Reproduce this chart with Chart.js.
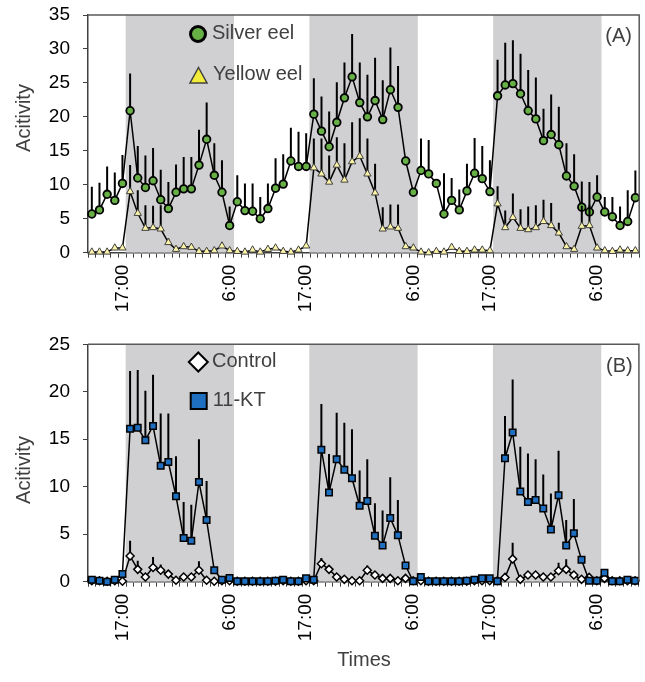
<!DOCTYPE html>
<html><head><meta charset="utf-8">
<script src="https://cdn.jsdelivr.net/npm/chart.js@4/dist/chart.umd.min.js"></script>
<style>
html,body{margin:0;padding:0;background:#fff;}
#wrap{position:relative;width:645px;height:682px;overflow:hidden;}
canvas{position:absolute;left:0;}
#cA{top:0}
#cB{top:330px}
</style></head><body>
<div id="wrap"><canvas id="cA" width="645" height="330"></canvas><canvas id="cB" width="645" height="352"></canvas></div>
<script>
// ---- categories (hourly samples) and tick labels ----
const timeLabels = [
  '', '', '', '', '17:00', '', '', '', '', '', '', '',
  '', '', '', '', '', '', '6:00', '', '', '', '', '',
  '', '', '', '', '17:00', '', '', '', '', '', '', '',
  '', '', '', '', '', '', '6:00', '', '', '', '', '',
  '', '', '', '', '17:00', '', '', '', '', '', '', '',
  '', '', '', '', '', '', '6:00', '', '', '', '', ''
];
// shaded (dark) periods, first and last category index
const nightRanges = [[5, 18], [29, 42], [53, 66]];

// ---- Panel A ----
const silverEel = [
  5.7, 6.3, 8.6, 7.7, 10.2, 20.9, 11.0, 9.6, 10.6, 7.8, 6.5, 8.9,
  9.4, 9.4, 12.9, 16.7, 11.4, 8.9, 4.0, 7.5, 6.2, 6.1, 5.0, 6.5,
  9.5, 10.1, 13.5, 12.7, 12.7, 20.4, 17.9, 15.6, 19.2, 22.8, 25.9, 22.1,
  20.0, 22.4, 19.6, 24.0, 21.4, 13.5, 8.9, 12.1, 11.6, 10.2, 5.7, 7.7,
  6.3, 9.1, 11.7, 10.9, 9.0, 23.1, 24.7, 24.9, 23.4, 20.9, 19.7, 16.5,
  17.4, 15.9, 11.3, 9.8, 6.7, 6.0, 8.2, 6.0, 5.3, 4.0, 4.6, 8.1
];
const silverEelErr = [
  4.0, 4.0, 4.1, 4.1, 4.2, 5.5, 4.7, 4.7, 4.8, 4.4, 3.9, 4.1,
  4.7, 4.7, 5.2, 5.4, 4.7, 4.7, 2.8, 3.9, 4.0, 4.1, 3.2, 3.7,
  4.4, 4.4, 4.9, 5.1, 4.9, 5.3, 5.1, 5.2, 5.9, 5.2, 6.3, 5.9,
  6.2, 6.3, 5.8, 6.2, 6.1, 0.5, 0.5, 4.7, 5.0, 0.5, 6.0, 3.3,
  3.0, 4.0, 5.2, 4.8, 4.6, 5.3, 6.2, 6.4, 5.9, 6.0, 6.1, 4.7,
  5.9, 5.6, 4.8, 4.7, 3.8, 4.4, 3.2, 2.2, 2.9, 2.8, 4.6, 4.0
];
const yellowEel = [
  0.1, 0.1, 0.1, 0.7, 0.7, 9.0, 5.8, 3.6, 3.7, 3.5, 1.5, 0.5,
  0.9, 0.8, 0.2, 0.2, 0.3, 1.0, 0.3, 0.2, 0.1, 0.4, 0.1, 0.5,
  0.7, 0.2, 0.1, 0.4, 1.0, 12.5, 11.6, 10.4, 12.9, 10.7, 13.4, 14.2,
  11.6, 8.8, 3.5, 3.8, 3.6, 0.9, 0.7, 0.1, 0.0, 0.2, 0.1, 0.8,
  0.2, 0.2, 0.4, 0.4, 0.3, 7.2, 3.7, 5.2, 3.6, 3.4, 3.7, 4.6,
  4.0, 2.9, 0.9, 0.5, 3.9, 4.0, 0.7, 0.3, 0.2, 0.4, 0.3, 0.3
];
const yellowEelErr = [
  0.2, 0.2, 0.2, 0.4, 0.4, 3.9, 3.4, 3.4, 3.2, 3.5, 0.6, 0.3,
  0.4, 0.4, 0.2, 0.2, 0.2, 0.5, 0.2, 0.2, 0.2, 0.2, 0.2, 0.2,
  0.2, 0.2, 0.2, 0.2, 0.3, 4.3, 5.2, 3.9, 4.1, 5.4, 5.8, 5.6,
  5.2, 4.3, 3.2, 3.3, 3.5, 0.3, 0.3, 0.2, 0.2, 0.2, 0.2, 0.3,
  0.2, 0.2, 0.2, 0.2, 0.2, 2.6, 2.5, 3.5, 2.8, 3.4, 3.3, 3.2,
  3.3, 1.5, 0.3, 0.3, 3.0, 3.0, 0.3, 0.2, 0.2, 0.2, 0.2, 0.2
];

// ---- Panel B ----
const control = [
  0.1, 0.1, 0.05, 0.1, 0.05, 2.7, 1.3, 0.5, 1.5, 1.2, 0.8, 0.15,
  0.5, 0.5, 1.2, 0.15, 0.05, 0.1, 0.1, 0.05, 0.05, 0.05, 0.05, 0.05,
  0.05, 0.1, 0.05, 0.05, 0.1, 0.1, 1.9, 1.3, 0.5, 0.25, 0.1, 0.1,
  1.2, 0.7, 0.35, 0.35, 0.1, 0.35, 0.1, 0.1, 0.05, 0.05, 0.05, 0.05,
  0.05, 0.05, 0.1, 0.1, 0.1, 0.1, 0.45, 2.4, 0.25, 0.7, 0.7, 0.5,
  0.5, 1.15, 1.3, 0.7, 0.25, 0.45, 0.1, 0.35, 0.1, 0.1, 0.1, 0.1
];
const controlErr = [
  0, 0, 0, 0, 0, 1.6, 0.9, 0.3, 1.1, 0.6, 0.3, 0.1,
  0.3, 0.3, 0.95, 0.1, 0, 0, 0, 0, 0, 0, 0, 0,
  0, 0, 0, 0, 0, 0, 0.6, 0.4, 0.3, 0.1, 0.1, 0.1,
  0.5, 0.3, 0.3, 0.2, 0.1, 0.2, 0, 0, 0, 0, 0, 0,
  0, 0, 0, 0, 0, 0, 0.3, 1.7, 0.2, 0.3, 0.3, 0.3,
  0.3, 0.84, 1.06, 0.3, 0.2, 0.2, 0, 0.2, 0, 0, 0, 0
];
const kt11 = [
  0.2, 0.1, 0.0, 0.2, 0.8, 16.1, 16.2, 14.9, 16.4, 12.2, 12.6, 9.0,
  4.6, 4.3, 10.5, 6.5, 1.2, 0.2, 0.4, 0.05, 0.05, 0.05, 0.05, 0.05,
  0.1, 0.2, 0.05, 0.05, 0.35, 0.2, 13.9, 9.4, 12.9, 11.8, 10.9, 8.0,
  8.5, 4.85, 3.8, 6.7, 4.9, 1.7, 0.05, 0.5, 0.05, 0.05, 0.05, 0.05,
  0.05, 0.1, 0.2, 0.35, 0.35, 0.05, 13.0, 15.7, 9.5, 8.4, 8.6, 7.7,
  5.5, 9.1, 3.8, 5.1, 2.3, 0.1, 0.1, 0.95, 0.05, 0.05, 0.2, 0.1
];
const kt11Err = [
  0, 0, 0, 0, 0, 6.1, 6.1, 5.2, 5.4, 5.5, 5.1, 4.2,
  3.8, 3.8, 4.5, 4.1, 0, 0, 0, 0, 0, 0, 0, 0,
  0, 0, 0, 0, 0, 0, 4.8, 4.05, 4.9, 4.95, 5.15, 3.7,
  4.4, 3.4, 3.7, 4.3, 3.7, 0, 0, 0, 0, 0, 0, 0,
  0, 0, 0, 0, 0, 0, 4.45, 5.6, 4.7, 5.1, 4.3, 3.6,
  3.8, 4.7, 2.7, 3.6, 0, 0, 0, 0, 0, 0, 0, 0
];

// ---- axis ranges ----
const yMaxA = 35, yMaxB = 25, yStep = 5;

// ---------------------------------------------------------------
const FONT = "'Liberation Sans', Arial, sans-serif";
const TEXT_GRAY = '#404040';
const AXIS = '#404040';

function bandData(ymax) {
  return timeLabels.map((_, i) => nightRanges.some(r => i >= r[0] && i <= r[1]) ? ymax : null);
}

const errorBarPlugin = {
  id: 'errorBars',
  beforeDatasetDraw(chart, args) {
    const ds = chart.data.datasets[args.index];
    if (!ds.errors) return;
    const ys = chart.scales.y;
    const ctx = chart.ctx;
    ctx.save();
    ctx.strokeStyle = '#000';
    ctx.lineWidth = 2;
    ctx.beginPath();
    args.meta.data.forEach((pt, i) => {
      const e = ds.errors[i];
      if (!e) return;
      ctx.moveTo(pt.x, pt.y);
      ctx.lineTo(pt.x, ys.getPixelForValue(ds.data[i] + e));
    });
    ctx.stroke();
    ctx.restore();
  }
};

function drawMarker(ctx, kind, x, y) {
  ctx.save();
  ctx.beginPath();
  if (kind === 'circle') {
    ctx.arc(x, y, 7.5, 0, Math.PI * 2);
    ctx.fillStyle = '#66b046'; ctx.strokeStyle = '#000'; ctx.lineWidth = 3;
  } else if (kind === 'triangle') {
    ctx.moveTo(x, y - 8.5); ctx.lineTo(x + 8.5, y + 7); ctx.lineTo(x - 8.5, y + 7); ctx.closePath();
    ctx.fillStyle = '#f2ec3a'; ctx.strokeStyle = '#404040'; ctx.lineWidth = 1.5;
  } else if (kind === 'diamond') {
    ctx.moveTo(x, y - 9.5); ctx.lineTo(x + 9.5, y); ctx.lineTo(x, y + 9.5); ctx.lineTo(x - 9.5, y); ctx.closePath();
    ctx.fillStyle = '#fff'; ctx.strokeStyle = '#000'; ctx.lineWidth = 2;
  } else {
    ctx.rect(x - 8, y - 8, 16, 16);
    ctx.fillStyle = '#1f6fc0'; ctx.strokeStyle = '#000'; ctx.lineWidth = 2;
  }
  ctx.fill(); ctx.stroke();
  ctx.restore();
}

function decorPlugin(opts) {
  return {
    id: 'decor',
    afterDraw(chart) {
      const ctx = chart.ctx, a = chart.chartArea;
      ctx.save();
      // top & right frame of plot area
      ctx.strokeStyle = '#595959'; ctx.lineWidth = 1.5;
      ctx.beginPath();
      ctx.moveTo(a.left, a.top); ctx.lineTo(a.right, a.top); ctx.lineTo(a.right, a.bottom);
      ctx.stroke();
      // legend
      ctx.font = '20px ' + FONT;
      ctx.fillStyle = TEXT_GRAY;
      ctx.textBaseline = 'middle';
      ctx.textAlign = 'left';
      opts.legend.forEach(l => {
        drawMarker(ctx, l.marker, l.mx, l.my);
        ctx.fillStyle = TEXT_GRAY;
        ctx.fillText(l.text, l.tx, l.ty);
      });
      // panel letter
      ctx.textAlign = 'right';
      ctx.fillText(opts.panel.text, opts.panel.x, opts.panel.y);
      // y axis title
      ctx.save();
      ctx.translate(opts.yTitle.x, opts.yTitle.y);
      ctx.rotate(-Math.PI / 2);
      ctx.textAlign = 'center';
      ctx.fillText(opts.yTitle.text, 0, 0);
      ctx.restore();
      if (opts.xTitle) {
        ctx.textAlign = 'center';
        ctx.fillText(opts.xTitle.text, opts.xTitle.x, opts.xTitle.y);
      }
      ctx.restore();
    }
  };
}

function makeChart(canvasId, o) {
  const lineBase = {
    type: 'line', borderColor: '#000', borderWidth: 1.5, tension: 0, clip: false, fill: false
  };
  return new Chart(document.getElementById(canvasId), {
    type: 'line',
    data: {
      labels: timeLabels,
      datasets: [
        {
          type: 'bar', data: bandData(o.yMax), backgroundColor: '#d0d0d2', borderWidth: 0,
          barPercentage: 1, categoryPercentage: 1, inflateAmount: 0.6, order: 10
        },
        Object.assign({}, lineBase, o.series[0]),
        Object.assign({}, lineBase, o.series[1])
      ]
    },
    options: {
      responsive: false, animation: false, devicePixelRatio: 1,
      layout: { padding: { top: o.padTop, right: 5, left: 0, bottom: 0 } },
      plugins: { legend: { display: false }, tooltip: { enabled: false } },
      scales: {
        x: {
          type: 'category', offset: true,
          grid: { offset: true, drawOnChartArea: false, drawTicks: true, tickLength: 5, color: AXIS, lineWidth: 1 },
          border: { color: AXIS, width: 1.5 },
          ticks: {
            autoSkip: false, maxRotation: 90, minRotation: 90, padding: 7,
            color: '#000', font: { family: FONT, size: 19 },
            callback: function (v, i) { return timeLabels[i]; }
          },
          afterFit(s) { s.height = o.xAxisH; s.paddingLeft = 0; s.paddingRight = 0; }
        },
        y: {
          min: 0, max: o.yMax,
          grid: { drawOnChartArea: false, drawTicks: true, tickLength: 5, color: AXIS },
          border: { color: AXIS, width: 1.5 },
          ticks: { stepSize: yStep, padding: 13, color: '#000', font: { family: FONT, size: 19 } },
          afterFit(s) { s.width = 88; s.paddingTop = 0; s.paddingBottom = 0; }
        }
      }
    },
    plugins: [errorBarPlugin, decorPlugin(o.decor)]
  });
}

makeChart('cA', {
  yMax: yMaxA, padTop: 15, xAxisH: 77.3,
  series: [
    { label: 'Silver eel', data: silverEel, errors: silverEelErr, order: 5,
      pointStyle: 'circle', pointRadius: 3.8, pointBorderWidth: 1.8,
      pointBackgroundColor: '#66b046', pointBorderColor: '#000' },
    { label: 'Yellow eel', data: yellowEel, errors: yellowEelErr, order: 4,
      pointStyle: 'triangle', pointRadius: 4.2, pointBorderWidth: 1,
      pointBackgroundColor: '#fbf3a6', pointBorderColor: '#404040' }
  ],
  decor: {
    legend: [
      { marker: 'circle', mx: 198, my: 34, text: 'Silver eel', tx: 212, ty: 33 },
      { marker: 'triangle', mx: 198.5, my: 76, text: 'Yellow eel', tx: 213, ty: 74 }
    ],
    panel: { text: '(A)', x: 632, y: 36.5 },
    yTitle: { text: 'Acitivity', x: 24.5, y: 118 }
  }
});

makeChart('cB', {
  yMax: yMaxB, padTop: 14.3, xAxisH: 100.3,
  series: [
    { label: '11-KT', data: kt11, errors: kt11Err, order: 4,
      pointStyle: 'rect', pointRadius: 4.6, pointBorderWidth: 1.5,
      pointBackgroundColor: '#1f6fc0', pointBorderColor: '#000' },
    { label: 'Control', data: control, errors: controlErr, order: 5,
      pointStyle: 'rectRot', pointRadius: 4, pointBorderWidth: 1.5,
      pointBackgroundColor: '#fff', pointBorderColor: '#000' }
  ],
  decor: {
    legend: [
      { marker: 'diamond', mx: 198.3, my: 32, text: 'Control', tx: 212, ty: 31 },
      { marker: 'square', mx: 198.7, my: 71, text: '11-KT', tx: 212.7, ty: 70.7 }
    ],
    panel: { text: '(B)', x: 632.7, y: 36.7 },
    yTitle: { text: 'Acitivity', x: 24.5, y: 140 },
    xTitle: { text: 'Times', x: 364, y: 330 }
  }
});
</script>
</body></html>
